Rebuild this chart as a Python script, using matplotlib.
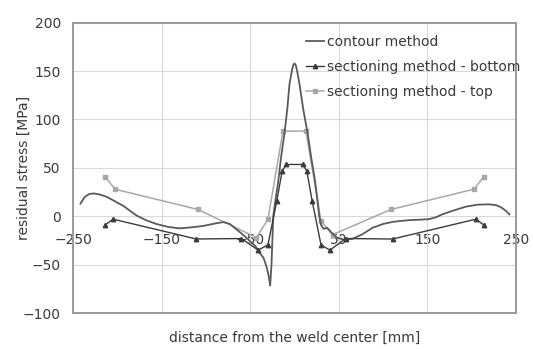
import matplotlib.pyplot as plt

# contour method (mm, MPa)
contour_x = [-242, -237, -232, -227, -220, -212, -203, -193, -185, -178,
             -168, -156, -143, -130, -117, -103, -90, -80, -73, -65,
             -57, -50, -44, -40, -35, -32, -30, -28.5, -27.5, -26,
             -24, -21, -18.5, -15, -11, -8, -5.6, -3, -1.5, 0,
             1.5, 3, 5.6, 10, 15, 19, 22.5, 25.5, 28, 30,
             33, 37, 42, 48, 55, 65, 77, 88, 100, 110,
             118, 130, 142, 152, 160, 167, 180, 194, 207, 220,
             228, 234, 239, 243]
contour_y = [13, 20, 23, 23.6, 22.5, 20, 15.5, 10.5, 5, 0.5,
             -4, -8, -11, -12.5, -11.5, -10, -7.5, -6, -8, -14,
             -20, -26, -31, -37, -43, -51, -58, -65, -71.5, -50,
             0, 20, 35, 62, 88, 112, 137, 150, 156, 158,
             156, 150, 137, 110, 85, 60, 41, 20, 0, -9,
             -13, -12, -17, -22, -24, -23.5, -18.5, -12, -8, -6,
             -5, -4, -3.5, -3, -1, 2, 6, 10, 12, 12.3,
             11.5, 9, 5.5, 2]

# sectioning method - bottom
bottom_x = [-214, -205, -111, -60, -41, -30, -20, -14, -9.5,
            9.5, 14, 20, 30, 40, 58, 111, 205, 214]
bottom_y = [-9, -3, -23.5, -23, -35, -29.5, 15.7, 46.5, 53.5,
            53.5, 46.5, 15.7, -29.5, -35, -23, -23.5, -3, -9]

# sectioning method - top
top_x = [-214, -203, -109, -43, -30, -13, 13, 30, 43, 109, 203, 214]
top_y = [41, 28, 7, -22, -3, 88, 88, -5, -19, 7, 28, 41]

xticks = [-250, -150, -50, 50, 150, 250]
yticks = [-100, -50, 0, 50, 100, 150, 200]
ymin, ymax = -100, 200

txt = '#3a3a3a'
plt.rcParams['font.family'] = 'DejaVu Sans'

fig = plt.figure(figsize=(5.33, 3.49), dpi=100)
ax = fig.add_axes([0.1375, 0.103, 0.8300, 0.832])

ax.plot(top_x, top_y, color='#a8a8a8', lw=1.1, marker='s', ms=2.5,
        label='sectioning method - top', zorder=3)
ax.plot(contour_x, contour_y, color='#5a5a5a', lw=1.3,
        label='contour method', zorder=4)
ax.plot(bottom_x, bottom_y, color='#3c3c3c', lw=1.0, marker='^', ms=3.2,
        label='sectioning method - bottom', zorder=5)

ax.set_xlim(-250, 250)
ax.set_ylim(ymin, ymax)
ax.set_xticks(xticks)
ax.set_yticks(yticks)
ax.grid(True, color='#d9d9d9', lw=0.8)
ax.set_axisbelow(True)
for s in ax.spines.values():
    s.set_color('#9a9a9a')
    s.set_linewidth(1.4)
ax.tick_params(axis='both', length=0, labelsize=10, colors=txt)
ax.tick_params(axis='x', labelbottom=False)
ax.tick_params(axis='y', pad=9)

# x axis crosses at zero: tick labels sit under the zero line
sec = ax.secondary_xaxis((0 - ymin) / (ymax - ymin))
sec.set_xticks(xticks)
sec.spines['bottom'].set_visible(False)
sec.tick_params(length=0, labelsize=10, colors=txt, pad=12)

ax.set_ylabel('residual stress [MPa]', fontsize=10, color=txt)
ax.yaxis.set_label_coords(-0.095, 0.5)
ax.set_xlabel('distance from the weld center [mm]', fontsize=10, color=txt)
ax.xaxis.set_label_coords(0.5, -0.06)

h, l = ax.get_legend_handles_labels()
order = [1, 2, 0]
ax.legend([h[i] for i in order], [l[i] for i in order], loc='upper left',
          bbox_to_anchor=(0.525, 0.958), frameon=False, fontsize=10,
          handlelength=1.3, handletextpad=0.25, labelspacing=0.8,
          borderpad=0, borderaxespad=0, labelcolor=txt)

fig.savefig('out.png', dpi=100)
